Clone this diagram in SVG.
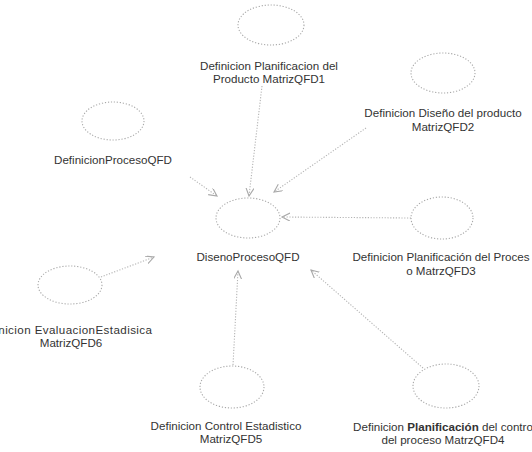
<svg xmlns="http://www.w3.org/2000/svg" width="532" height="452" viewBox="0 0 532 452">
  <style>
    .node ellipse { fill: #ffffff; stroke: #a8a8a8; stroke-width: 1.1; stroke-dasharray: 1.2 1.8; }
    .node text { font-family: "Liberation Sans", Arial, sans-serif; font-size: 11.6px; fill: #333333; text-anchor: middle; }
    .edge { stroke: #b4b4b4; stroke-width: 1.1; stroke-dasharray: 1.2 1.6; fill: none; marker-end: url(#arrow); }
  </style>
  <defs>
    <marker id="arrow" markerWidth="10" markerHeight="10" refX="8" refY="4" orient="auto" markerUnits="userSpaceOnUse">
      <path d="M0,0 L8,4 L0,8" fill="none" stroke="#a8a8a8" stroke-width="1.1"/>
    </marker>
  </defs>
  <rect width="532" height="452" fill="#ffffff"/>

  <!-- dependencies pointing into the central process design node -->
  <g id="connectors">
    <line class="edge" x1="190" y1="177" x2="217" y2="196"/>
    <line class="edge" x1="262" y1="86" x2="249" y2="196"/>
    <line class="edge" x1="366" y1="128" x2="274" y2="192"/>
    <line class="edge" x1="411" y1="218" x2="282" y2="217"/>
    <line class="edge" x1="423" y1="368" x2="311" y2="270"/>
    <line class="edge" x1="233" y1="365" x2="238" y2="271"/>
    <line class="edge" x1="101" y1="277" x2="154" y2="257"/>
  </g>

  <g id="DisenoProcesoQFD" class="node">
    <ellipse cx="248" cy="218" rx="32" ry="20"/>
    <text x="248" y="261">DisenoProcesoQFD</text>
  </g>

  <g id="MatrizQFD1" class="node">
    <ellipse cx="271" cy="25" rx="33" ry="20"/>
    <text x="269" y="70">Definicion Planificacion del</text>
    <text x="269" y="83">Producto MatrizQFD1</text>
  </g>

  <g id="DefinicionProcesoQFD" class="node">
    <ellipse cx="113" cy="121" rx="31" ry="19"/>
    <text x="113" y="164">DefinicionProcesoQFD</text>
  </g>

  <g id="MatrizQFD2" class="node">
    <ellipse cx="443" cy="73" rx="32" ry="20"/>
    <text x="443" y="117">Definicion Diseño del producto</text>
    <text x="443" y="131">MatrizQFD2</text>
  </g>

  <g id="MatrizQFD3" class="node">
    <ellipse cx="442" cy="218" rx="31" ry="21"/>
    <text x="441" y="261">Definicion Planificación del Proces</text>
    <text x="441" y="275">o MatrzQFD3</text>
  </g>

  <!-- label runs past the left edge of the canvas -->
  <g id="MatrizQFD6" class="node">
    <ellipse cx="70" cy="285" rx="32" ry="19"/>
    <text x="64" y="334" textLength="176" lengthAdjust="spacing">Definicion EvaluacionEstadisica</text>
    <text x="71" y="347">MatrizQFD6</text>
  </g>

  <g id="MatrizQFD5" class="node">
    <ellipse cx="232" cy="387" rx="32" ry="21"/>
    <text x="226" y="430">Definicion Control Estadistico</text>
    <text x="231" y="443">MatrizQFD5</text>
  </g>

  <g id="MatrizQFD4" class="node">
    <ellipse cx="446" cy="386" rx="33" ry="22"/>
    <text x="443" y="431">Definicion <tspan font-weight="bold">Planificación</tspan> del contro</text>
    <text x="443" y="444">del proceso MatrzQFD4</text>
  </g>
</svg>
